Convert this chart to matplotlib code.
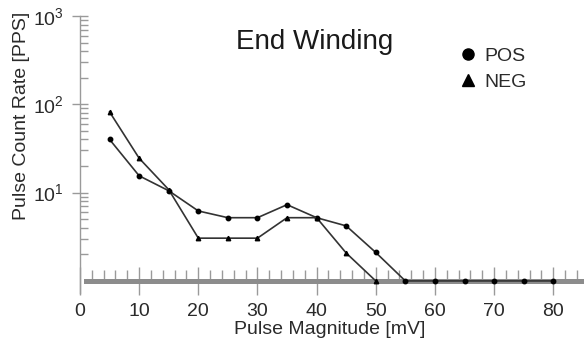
import matplotlib
matplotlib.use("Agg")
import matplotlib.pyplot as plt
from matplotlib.lines import Line2D
from matplotlib.ticker import FixedLocator, NullFormatter

# pulse magnitude [mV] and count rate [PPS]
mv_pos = [5, 10, 15, 20, 25, 30, 35, 40, 45, 50, 55, 60, 65, 70, 75, 80]
rate_pos = [40, 15.5, 10.5, 6.2, 5.2, 5.2, 7.3, 5.2, 4.2, 2.1, 1, 1, 1, 1, 1, 1]
mv_neg = [5, 10, 15, 20, 25, 30, 35, 40, 45, 50]
rate_neg = [82, 24.5, 10.8, 3.05, 3.05, 3.05, 5.2, 5.2, 2.07, 1]

x_ticks = [0, 10, 20, 30, 40, 50, 60, 70, 80]
y_ticks = [10, 100, 1000]

plt.rcParams["font.family"] = ["Liberation Sans", "DejaVu Sans"]
AXIS_GRAY = "#9a9a9a"
TEXT = "#2a2a2a"

fig = plt.figure(figsize=(5.84, 3.41), dpi=100)
ax = fig.add_axes([80 / 584, 48 / 341, 504 / 584, 277 / 341])

ax.plot(mv_pos, rate_pos, color="#333333", lw=1.2, marker="o", ms=3.2,
        mfc="black", mec="black", zorder=3)
ax.plot(mv_neg, rate_neg, color="#333333", lw=1.2, marker="^", ms=3.2,
        mfc="black", mec="black", zorder=3)

ax.set_yscale("log")
ax.set_xlim(0, 85.2)
ax.set_ylim(0.73, 1000)

for side in ("top", "right"):
    ax.spines[side].set_visible(False)
ax.spines["left"].set_color(AXIS_GRAY)
ax.spines["left"].set_linewidth(1.0)
ax.spines["bottom"].set_position(("data", 1))
ax.spines["bottom"].set_color("#8c8c8c")
ax.spines["bottom"].set_linewidth(3.6)
ax.spines["bottom"].set_bounds(1, 85.2)
ax.spines["bottom"].set_zorder(2)

ax.xaxis.set_major_locator(FixedLocator(x_ticks))
ax.xaxis.set_minor_locator(FixedLocator([v for v in range(2, 86, 2) if v % 10]))
ax.tick_params(axis="x", which="major", direction="inout", length=20, width=1,
               color=AXIS_GRAY, labelsize=14, labelcolor=TEXT, pad=6)
ax.tick_params(axis="x", which="minor", direction="in", length=8, width=1,
               color=AXIS_GRAY)

ax.yaxis.set_major_locator(FixedLocator(y_ticks))
ax.yaxis.set_minor_locator(FixedLocator(
    [k * 10 ** d for d in range(3) for k in range(2, 10)]))
ax.yaxis.set_minor_formatter(NullFormatter())
ax.tick_params(axis="y", which="major", direction="inout", length=11.5, width=1,
               color=AXIS_GRAY, labelsize=14, labelcolor=TEXT, pad=6)
ax.tick_params(axis="y", which="minor", direction="in", length=6, width=1,
               color=AXIS_GRAY)

fig.text(22 / 584, 1 - 116 / 341, "Pulse Count Rate [PPS]", rotation=90,
         ha="center", va="center", fontsize=14, color=TEXT)
fig.text(330 / 584, 1 - 330 / 341, "Pulse Magnitude [mV]",
         ha="center", va="center", fontsize=14, color=TEXT)
fig.text(315 / 584, 1 - 42 / 341, "End Winding",
         ha="center", va="center", fontsize=20, color="#1a1a1a")

handles = [
    Line2D([], [], ls="none", marker="o", ms=8, color="black", label="POS"),
    Line2D([], [], ls="none", marker="^", ms=8, color="black", label="NEG"),
]
fig.legend(handles=handles, loc="center left",
           bbox_to_anchor=(461 / 584, 1 - 69 / 341), frameon=False,
           fontsize=14, handlelength=0.7, handletextpad=0.5, labelspacing=0.45,
           labelcolor=TEXT, borderpad=0, borderaxespad=0)

fig.savefig("out.png", dpi=100, facecolor="white")
